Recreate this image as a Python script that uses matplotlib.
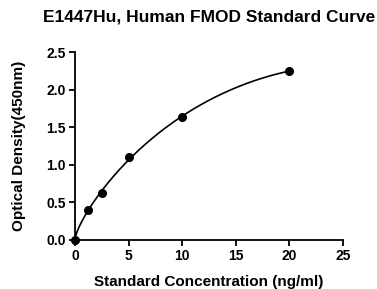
import numpy as np
import matplotlib
matplotlib.use("Agg")
import matplotlib.pyplot as plt

conc = [0, 1.25, 2.5, 5, 10, 20]
od = [0.0, 0.40, 0.63, 1.10, 1.63, 2.25]
xticks = [0, 5, 10, 15, 20, 25]
yticks = [0.0, 0.5, 1.0, 1.5, 2.0, 2.5]

plt.rcParams['font.family'] = ['Liberation Sans', 'DejaVu Sans']
plt.rcParams['font.weight'] = 'bold'

fig = plt.figure(figsize=(3.77, 2.89), dpi=100)
ax = fig.add_axes([0.199, 0.170, 0.711, 0.650])

s = np.sqrt(np.array(conc))
coef = np.polyfit(s, np.array(od), 3)
xs = np.linspace(0, 20, 300)
ax.plot(xs, np.polyval(coef, np.sqrt(xs)), color='black', lw=1.2, zorder=2)
ax.plot(conc, od, 'o', color='black', ms=5.5, zorder=3, clip_on=False)

ax.set_xlim(0, 25)
ax.set_ylim(0, 2.5)
ax.set_xticks(xticks)
ax.set_yticks(yticks)
ax.set_xticklabels([str(v) for v in xticks])
ax.set_yticklabels([f"{v:.1f}" for v in yticks])
for sp in ['top', 'right']:
    ax.spines[sp].set_visible(False)
for sp in ['left', 'bottom']:
    ax.spines[sp].set_linewidth(1.3)
ax.tick_params(direction='out', length=4.5, width=1.3, labelsize=10, pad=2)
for lab in ax.get_xticklabels() + ax.get_yticklabels():
    lab.set_fontweight('bold')

ax.set_xlabel('Standard Concentration (ng/ml)', fontsize=11, fontweight='bold', labelpad=9)
ax.set_ylabel('Optical Density(450nm)', fontsize=11, fontweight='bold', labelpad=15)
fig.text(0.555, 0.94, 'E1447Hu, Human FMOD Standard Curve', ha='center', va='center',
         fontsize=12.5, fontweight='bold')

fig.savefig('out.png', dpi=100)
